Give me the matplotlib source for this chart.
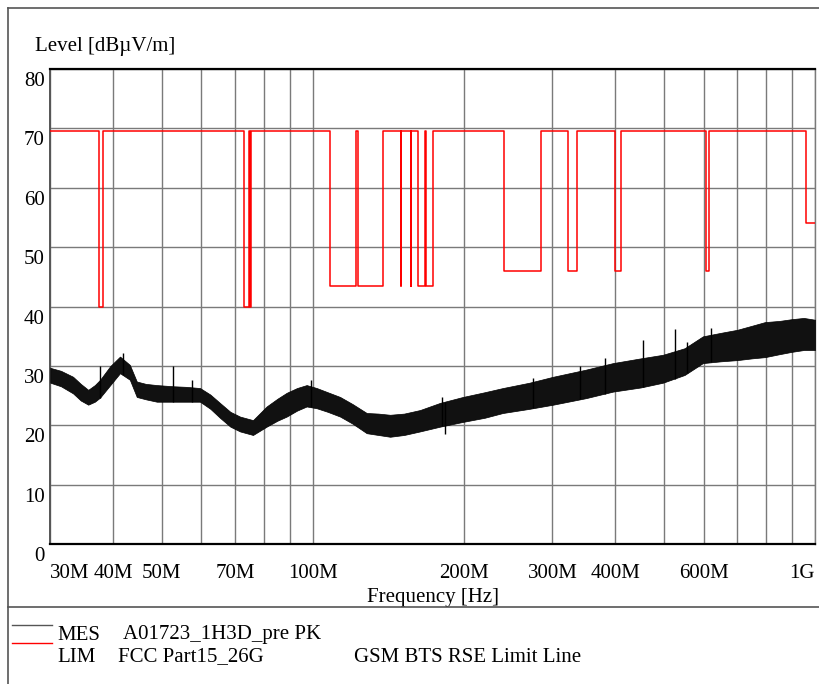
import numpy as np
import matplotlib
matplotlib.use("Agg")
import matplotlib.pyplot as plt
from matplotlib.lines import Line2D
from matplotlib.transforms import ScaledTranslation

plt.rcParams['font.family'] = ['Liberation Serif', 'DejaVu Serif']

# ---------------- data ----------------
# Limit line: base level and restricted bands (MHz) with their lower level
lim_base = 69.5
band_lo = [37.5, 73.0, 74.8, 108.0, 123.0, 149.9, 156.52475, 156.7, 162.0125, 167.72, 240.0, 322.0, 399.9, 608.0]
band_hi = [38.25, 74.6, 75.2, 121.94, 138.0, 150.05, 156.52525, 156.9, 167.17, 173.2, 285.0, 335.4, 410.0, 614.0]
band_lvl = [40.0, 40.0, 40.0, 43.5, 43.5, 43.5, 43.5, 43.5, 43.5, 43.5, 46.0, 46.0, 46.0, 46.0]
lim_end_start = 960.0
lim_end_lvl = 54.0

# Measurement trace envelope (MHz, dBuV/m)
mes_freq = [30.0, 31.5, 33.3, 34.5, 35.7, 36.8, 37.7, 39.5, 41.3, 43.2, 44.6, 46.5, 48.9, 52.7, 56.0,
            59.6, 62.5, 65.3, 68.5, 71.6, 76.0, 80.9, 85.0, 88.7, 93.0, 97.2, 101.8, 107.0, 113.3,
            120.0, 128.0, 135.0, 142.5, 152.0, 163.5, 179.2, 199.0, 220.0, 239.0, 270.0, 301.0,
            350.0, 396.0, 450.0, 498.0, 550.0, 598.0, 650.0, 700.0, 750.0, 795.0, 850.0, 900.0, 950.0, 1000.0]
mes_hi = [29.7, 29.2, 28.2, 27.0, 26.0, 26.8, 27.7, 30.0, 31.6, 30.2, 27.4, 27.0, 26.8, 26.6, 26.5,
          26.3, 25.2, 23.8, 22.3, 21.5, 20.9, 23.2, 24.5, 25.5, 26.3, 26.8, 26.3, 25.6, 24.8,
          23.6, 22.1, 22.0, 21.8, 22.0, 22.6, 23.8, 24.8, 25.6, 26.3, 27.2, 28.2,
          29.4, 30.5, 31.3, 31.9, 33.0, 35.0, 35.6, 36.1, 36.8, 37.4, 37.6, 37.9, 38.1, 37.8]
mes_lo = [27.2, 26.6, 25.4, 24.2, 23.5, 24.0, 24.7, 26.8, 28.8, 27.7, 24.8, 24.4, 24.0, 24.0, 24.0,
          24.0, 22.8, 21.3, 19.8, 19.0, 18.4, 19.8, 20.8, 21.5, 22.5, 23.2, 22.9, 22.3, 21.5,
          20.3, 18.7, 18.4, 18.1, 18.4, 19.0, 19.8, 20.6, 21.3, 22.1, 22.8, 23.5,
          24.6, 25.7, 26.4, 27.2, 28.5, 30.5, 30.8, 31.0, 31.3, 31.5, 32.0, 32.4, 32.7, 32.7]

# isolated peaks (up) and dips (down) on the measurement trace
spike_freq = [37.7, 41.9, 52.7, 57.4, 99.3, 181.0, 275.0, 340.0, 382.0, 455.0, 526.0, 557.0, 620.0]
spike_lvl = [30.0, 32.2, 30.0, 27.7, 27.6, 24.8, 28.0, 30.0, 31.3, 34.4, 36.3, 34.1, 36.4]
dip_freq = [183.0]
dip_lvl = [18.6]

x_ticks = [30, 40, 50, 70, 100, 200, 300, 400, 600, 1000]
x_ticklabels = ['30M', '40M', '50M', '70M', '100M', '200M', '300M', '400M', '600M', '1G']
x_grid = [30, 40, 50, 60, 70, 80, 90, 100, 200, 300, 400, 500, 600, 700, 800, 900, 1000]
y_ticks = [0, 10, 20, 30, 40, 50, 60, 70, 80]

# ---------------- build limit step path ----------------
lim_x = [30.0]
lim_y = [lim_base]
for lo, hi, lv in zip(band_lo, band_hi, band_lvl):
    lim_x += [lo, lo, hi, hi]
    lim_y += [lim_base, lv, lv, lim_base]
lim_x += [lim_end_start, lim_end_start, 1000.0]
lim_y += [lim_base, lim_end_lvl, lim_end_lvl]

# ---------------- figure ----------------
W, H = 819, 684
fig = plt.figure(figsize=(W / 100, H / 100), dpi=100)
ax = fig.add_axes([50.3 / W, 1 - 544.3 / H, (815 - 50.3) / W, (544.3 - 69) / H])
ax.set_xscale('log')
ax.set_xlim(30, 1000)
ax.set_ylim(0, 80)

for g in x_grid:
    ax.axvline(g, color='#7a7a7a', lw=1.0, zorder=1)
for g in y_ticks:
    ax.axhline(g, color='#7a7a7a', lw=1.0, zorder=1)

ax.fill_between(mes_freq, mes_lo, mes_hi, color='#111111', lw=0.5, edgecolor='black', zorder=3)
ax.vlines(spike_freq, np.interp(spike_freq, mes_freq, mes_lo), spike_lvl, color='black', lw=1.0, zorder=3)
ax.vlines(dip_freq, dip_lvl, np.interp(dip_freq, mes_freq, mes_hi), color='black', lw=1.0, zorder=3)
ax.plot(lim_x, lim_y, color='red', lw=1.1, zorder=4)

ax.set_xticks(x_ticks)
ax.set_xticklabels(x_ticklabels, fontsize=15)
ax.xaxis.set_minor_locator(matplotlib.ticker.NullLocator())
ax.set_yticks(y_ticks)
ax.set_yticklabels([str(v) for v in y_ticks], fontsize=15)
ax.tick_params(axis='x', length=0, pad=14)
ax.tick_params(axis='y', length=0, pad=4)
for t in ax.get_yticklabels():
    t.set_verticalalignment('top')
    t.set_transform(t.get_transform() + ScaledTranslation(0, -3 / 100, fig.dpi_scale_trans))
labs = ax.get_xticklabels()
labs[0].set_horizontalalignment('left')
labs[-1].set_horizontalalignment('right')

for s in ['top', 'bottom']:
    ax.spines[s].set_color('black')
    ax.spines[s].set_linewidth(1.6)
ax.spines['left'].set_color('#555555')
ax.spines['left'].set_linewidth(1.4)
ax.spines['right'].set_color('#7a7a7a')
ax.spines['right'].set_linewidth(1.0)

ax.set_xlabel('Frequency [Hz]', fontsize=15, labelpad=4)
fig.text(35 / W, 1 - 47 / H, 'Level [dBµV/m]', fontsize=15, ha='left', va='center')

# outer frame and separator
def fl(x0, y0, x1, y1, **kw):
    fig.add_artist(Line2D([x0 / W, x1 / W], [1 - y0 / H, 1 - y1 / H], transform=fig.transFigure, **kw))

fl(8, 8, W, 8, color='#555555', lw=1.2)
fl(8, 8, 8, H, color='#555555', lw=1.2)
fl(8, 607, W, 607, color='#555555', lw=1.2)

# legend
fl(12, 625, 52, 625, color='#555555', lw=1.0)
fl(12, 643, 52, 643, color='red', lw=1.0)
fig.text(57 / W, 1 - 635 / H, 'MES', fontsize=15, va='center')
fig.text(123 / W, 1 - 635 / H, 'A01723_1H3D_pre PK', fontsize=15, va='center')
fig.text(57 / W, 1 - 657 / H, 'LIM', fontsize=15, va='center')
fig.text(118 / W, 1 - 657 / H, 'FCC Part15_26G', fontsize=15, va='center')
fig.text(354 / W, 1 - 657 / H, 'GSM BTS RSE Limit Line', fontsize=15, va='center')

fig.savefig('out.png', dpi=100)
